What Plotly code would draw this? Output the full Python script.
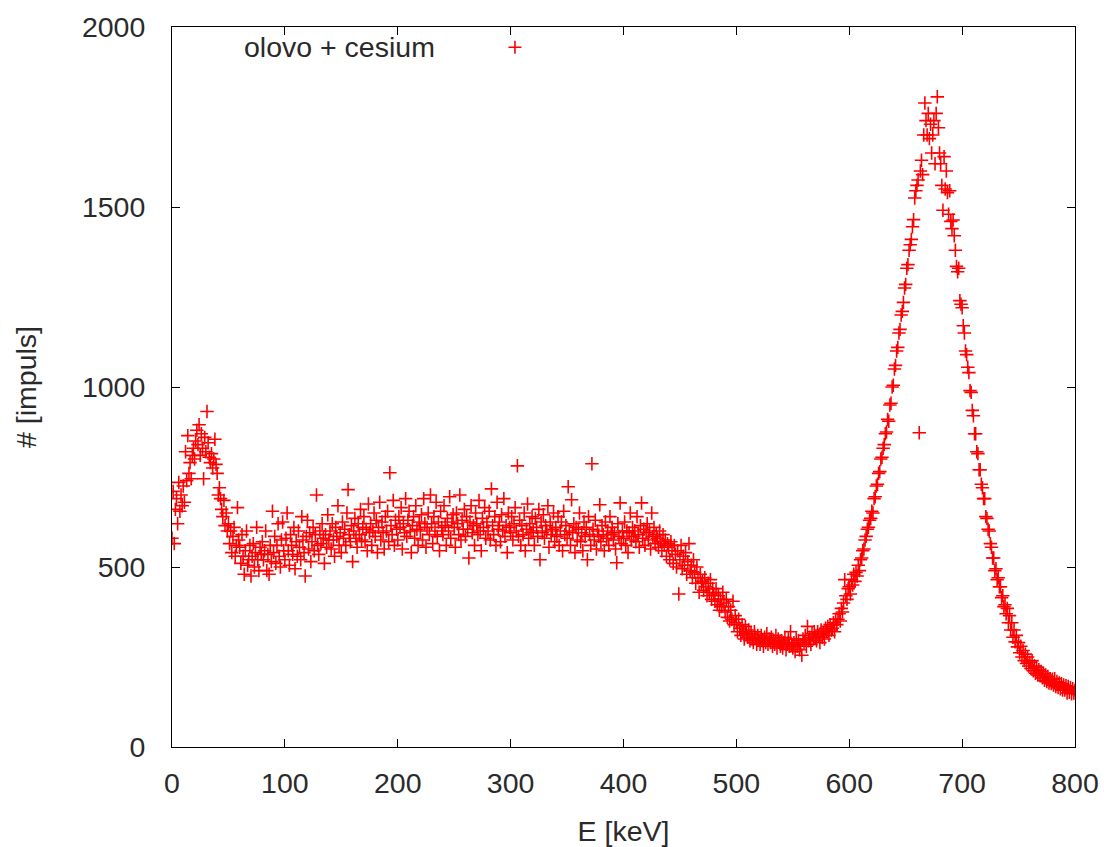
import plotly.graph_objects as go

# Energy channels (keV) and counts, segment by segment
energy_a = list(range(0, 200))
counts_a = [
    580, 710, 565, 660, 690, 620, 735, 655, 700, 670,
    725, 680, 820, 740, 865, 760, 790, 745, 810, 830,
    800, 850, 880, 840, 895, 810, 870, 830, 745, 860,
    820, 932, 845, 805, 790, 815, 775, 800, 855, 785,
    760, 700, 720, 690, 660, 640, 685, 615, 650, 600,
    620, 565, 600, 540, 585, 610, 530, 560, 665, 575,
    555, 510, 590, 530, 480, 545, 600, 505, 520, 560,
    475, 530, 565, 500, 540, 610, 520, 490, 555, 535,
    570, 520, 545, 600, 490, 535, 480, 560, 515, 655,
    540, 585, 510, 560, 620, 530, 500, 575, 625, 545,
    520, 580, 650, 545, 505, 590, 560, 535, 610, 495,
    570, 530, 600, 555, 520, 640, 575, 540, 475, 585,
    630, 550, 595, 515, 570, 610, 545, 590, 700, 560,
    535, 600, 565, 620, 580, 510, 590, 555, 645, 575,
    600, 550, 620, 575, 530, 610, 585, 670, 560, 595,
    540, 625, 580, 605, 560, 650, 715, 590, 570, 615,
    515, 600, 635, 580, 555, 620, 590, 660, 575, 610,
    640, 570, 605, 545, 675, 595, 620, 560, 600, 650,
    585, 630, 540, 610, 680, 575, 625, 595, 550, 640,
    600, 655, 570, 762, 615, 590, 685, 560, 630, 605,
]

energy_b = list(range(200, 400))
counts_b = [
    575, 640, 610, 665, 550, 620, 595, 690, 585, 630,
    655, 600, 540, 615, 640, 580, 670, 605, 560, 625,
    600, 645, 575, 690, 620, 555, 610, 650, 590, 700,
    620, 565, 640, 600, 680, 585, 625, 545, 655, 610,
    590, 670, 615, 560, 635, 600, 695, 580, 625, 645,
    610, 555, 650, 620, 590, 700, 575, 630, 605, 660,
    585, 640, 605, 525, 625, 670, 595, 615, 560, 650,
    620, 590, 685, 600, 545, 635, 610, 665, 580, 625,
    600, 655, 575, 717, 615, 590, 640, 560, 680, 605,
    625, 570, 645, 600, 690, 585, 615, 540, 650, 610,
    595, 640, 575, 620, 665, 600, 781, 585, 630, 560,
    615, 590, 650, 545, 605, 675, 580, 620, 595, 640,
    600, 560, 635, 610, 585, 660, 520, 625, 595, 645,
    580, 615, 600, 670, 555, 625, 590, 605, 650, 570,
    610, 585, 640, 560, 600, 625, 545, 655, 590, 615,
    580, 723, 600, 560, 687, 595, 620, 540, 610, 575,
    605, 650, 570, 595, 545, 625, 585, 610, 520, 640,
    590, 560, 787, 605, 575, 630, 550, 600, 585, 673,
    570, 615, 590, 545, 625, 580, 600, 560, 640, 590,
    610, 575, 595, 550, 512, 620, 585, 678, 565, 600,
]

energy_c = list(range(400, 600))
counts_c = [
    580, 625, 560, 600, 540, 595, 650, 575, 610, 585,
    600, 570, 640, 590, 555, 615, 678, 580, 605, 560,
    595, 620, 575, 600, 550, 650, 585, 610, 565, 590,
    580, 555, 600, 570, 545, 590, 560, 575, 530, 565,
    555, 520, 570, 545, 510, 560, 535, 500, 545, 425,
    520, 560, 495, 530, 505, 540, 480, 515, 565, 490,
    505, 470, 520, 485, 455, 500, 470, 430, 480, 455,
    460, 435, 470, 445, 420, 455, 430, 465, 410, 440,
    425, 405, 440, 395, 420, 380, 410, 390, 430, 400,
    375, 410, 360, 390, 350, 380, 355, 405, 340, 365,
    345, 320, 355, 330, 310, 340, 320, 300, 335, 315,
    305, 325, 295, 315, 300, 290, 320, 305, 285, 310,
    300, 285, 310, 295, 280, 305, 290, 315, 285, 300,
    290, 305, 280, 295, 285, 310, 275, 300, 290, 280,
    295, 275, 290, 305, 270, 285, 300, 280, 320, 285,
    275, 290, 265, 300, 280, 295, 270, 285, 255, 300,
    290, 310, 280, 335, 295, 305, 285, 315, 300, 320,
    305, 295, 320, 310, 290, 325, 305, 315, 300, 330,
    320, 335, 310, 340, 325, 330, 345, 320, 355, 340,
    355, 370, 350, 385, 375, 400, 465, 420, 410, 440,
]

energy_d = list(range(600, 801))
counts_d = [
    445, 425, 465, 450, 480, 460, 485, 475, 505, 490,
    520, 525, 545, 550, 575, 585, 605, 610, 630, 635,
    655, 650, 690, 695, 725, 730, 760, 765, 800, 805,
    830, 840, 870, 875, 910, 905, 950, 955, 1000, 1005,
    1050, 1060, 1100, 1110, 1150, 1160, 1200, 1210, 1235, 1275,
    1285, 1330, 1340, 1380, 1395, 1410, 1445, 1465, 1525, 1545,
    1560, 1575, 873, 1600, 1630, 1590, 1700, 1789, 1740, 1700,
    1760, 1690, 1730, 1650, 1700, 1740, 1620, 1760, 1806, 1720,
    1650, 1620, 1560, 1491, 1640, 1550, 1600, 1540, 1480, 1545,
    1460, 1440, 1464, 1420, 1380, 1335, 1320, 1330, 1240, 1230,
    1220, 1170, 1150, 1100, 1090, 1055, 1040, 990, 985, 935,
    920, 870, 870, 820, 815, 770, 770, 730, 720, 690,
    690, 640, 635, 605, 600, 565, 555, 525, 525, 490,
    495, 465, 470, 445, 445, 415, 420, 390, 395, 370,
    385, 345, 365, 325, 345, 305, 325, 292, 310, 278,
    290, 262, 280, 250, 268, 240, 258, 232, 250, 225,
    235, 218, 240, 212, 225, 205, 222, 200, 215, 198,
    210, 192, 205, 185, 200, 182, 196, 178, 190, 176,
    188, 172, 190, 168, 182, 165, 178, 162, 176, 158,
    172, 158, 170, 150, 168, 152, 165, 148, 162, 150,
    158,
]

x_ticks = [0, 100, 200, 300, 400, 500, 600, 700, 800]
y_ticks = [0, 500, 1000, 1500, 2000]
series_name = "olovo + cesium"

energy = energy_a + energy_b + energy_c + energy_d
counts = counts_a + counts_b + counts_c + counts_d

RED = "#ff0000"
FONT = dict(family="Liberation Sans, Arial, sans-serif", size=28.5, color="#2a2a2a")

fig = go.Figure()
fig.add_trace(go.Scatter(
    x=energy, y=counts, mode="markers", name=series_name, showlegend=False,
    marker=dict(symbol="cross-thin", size=9.6, color=RED,
                line=dict(color=RED, width=1.6)),
))

axis_common = dict(
    showline=True, linecolor="black", linewidth=1, mirror="ticks",
    ticks="inside", ticklen=8, tickwidth=1, tickcolor="black",
    showgrid=False, zeroline=False, tickfont=FONT,
)
fig.update_xaxes(range=[0, 800], tickvals=x_ticks, ticklabelstandoff=11,
                 title=dict(text="E [keV]", font=FONT, standoff=22), **axis_common)
fig.update_yaxes(range=[0, 2000], tickvals=y_ticks, ticklabelstandoff=20,
                 title=dict(text="# [impuls]", font=FONT, standoff=36), **axis_common)

# key: text then sample symbol (gnuplot style)
fig.add_annotation(xref="paper", yref="paper", x=0.2935, y=0.9718,
                   xanchor="right", yanchor="middle", showarrow=False,
                   text=series_name, font=FONT)
cx, cy, ax_, ay_ = 0.3798, 0.9718, 0.0072, 0.0090
fig.add_shape(type="path", xref="paper", yref="paper",
              path=f"M{cx-ax_},{cy} L{cx+ax_},{cy} M{cx},{cy-ay_} L{cx},{cy+ay_}",
              line=dict(color=RED, width=1.6))

fig.update_layout(
    width=1104, height=847,
    margin=dict(l=172, r=29, t=27, b=100, autoexpand=False),
    paper_bgcolor="white", plot_bgcolor="white",
    font=FONT,
)

fig.write_html("out.html")
